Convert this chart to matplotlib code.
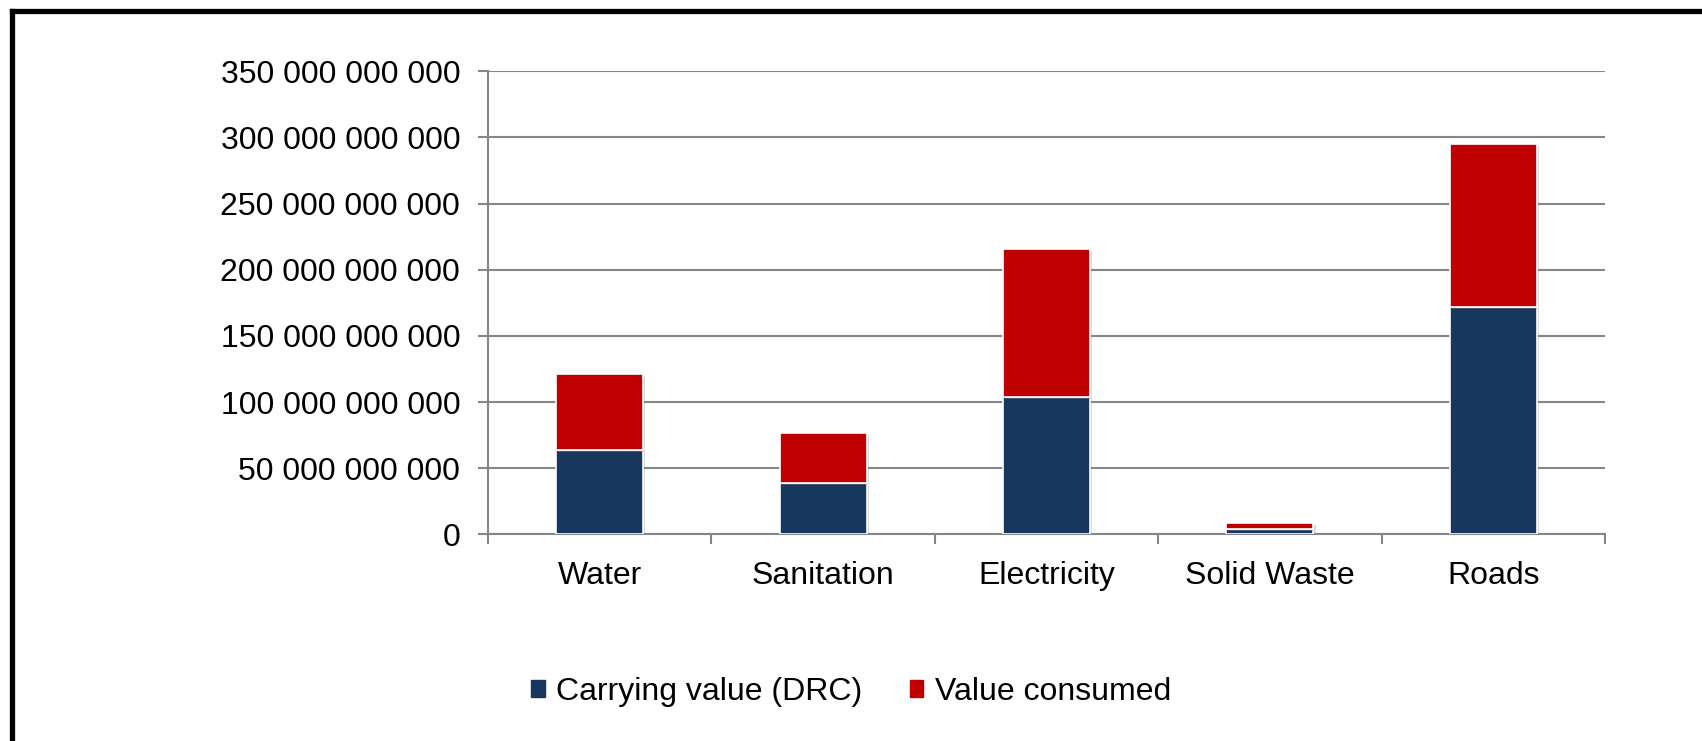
import numpy as np
import matplotlib.pyplot as plt
from matplotlib.lines import Line2D
from matplotlib.patches import Patch
from matplotlib.ticker import FuncFormatter
import matplotlib.patheffects as pe

plt.rcParams['font.family'] = ['Liberation Sans', 'DejaVu Sans']

# infrastructure asset values (Rand)
categories = ['Water', 'Sanitation', 'Electricity', 'Solid Waste', 'Roads']
carrying_value = [63.7e9, 38.5e9, 103.6e9, 4.0e9, 171.6e9]
value_consumed = [57.5e9, 38.3e9, 112.4e9, 4.8e9, 123.2e9]

navy = '#17375E'
red = '#C00000'
grid_grey = '#868686'
fs = 23

fig = plt.figure(figsize=(17.02, 7.41), dpi=100)
ax = fig.add_axes([0.2867, 0.2789, 0.6563, 0.6249])

x = np.arange(len(categories))
shadow = [pe.SimplePatchShadow(offset=(1.5, -1.5), shadow_rgbFace='#999999', alpha=0.35), pe.Normal()]
b1 = ax.bar(x, carrying_value, width=0.39, color=navy, edgecolor='white', linewidth=1.2, zorder=3)
b2 = ax.bar(x, value_consumed, width=0.39, bottom=carrying_value, color=red, edgecolor='white',
            linewidth=1.2, zorder=3)
for bar in list(b1) + list(b2):
    bar.set_path_effects(shadow)

ax.set_xlim(-0.5, len(categories) - 0.5)
ax.set_ylim(0, 350e9)
ax.set_yticks(np.arange(0, 351e9, 50e9))
ax.yaxis.set_major_formatter(FuncFormatter(lambda v, p: f'{int(round(v)):,}'.replace(',', ' ')))
ax.grid(axis='y', color=grid_grey, linewidth=1.5, zorder=0)
ax.set_axisbelow(True)

ax.set_xticks(x)
ax.set_xticklabels(categories)
ax.set_xticks(np.arange(-0.5, len(categories)), minor=True)
ax.tick_params(axis='x', which='major', length=0, pad=19, labelsize=fs)
ax.tick_params(axis='x', which='minor', length=7, width=1.5, color=grid_grey)
ax.tick_params(axis='y', length=7, width=1.5, color=grid_grey, pad=13, labelsize=fs)

for side in ['top', 'right']:
    ax.spines[side].set_visible(False)
for side in ['left', 'bottom']:
    ax.spines[side].set_color(grid_grey)
    ax.spines[side].set_linewidth(1.5)

handles = [Patch(color=navy, label='Carrying value (DRC)'), Patch(color=red, label='Value consumed')]
fig.legend(handles=handles, loc='center', bbox_to_anchor=(0.5, 1 - 692 / 741), ncol=2,
           frameon=False, fontsize=fs, handlelength=0.42, handleheight=0.42,
           handletextpad=0.35, columnspacing=1.5)

# black frame along the top and left edges
fig.add_artist(Line2D([11.5 / 1702, 1], [1 - 11 / 741, 1 - 11 / 741], color='black', linewidth=3.8,
                      transform=fig.transFigure))
fig.add_artist(Line2D([11.5 / 1702, 11.5 / 1702], [0, 1 - 11 / 741], color='black', linewidth=3.8,
                      transform=fig.transFigure))

fig.savefig('out.png', dpi=100, facecolor='white')
